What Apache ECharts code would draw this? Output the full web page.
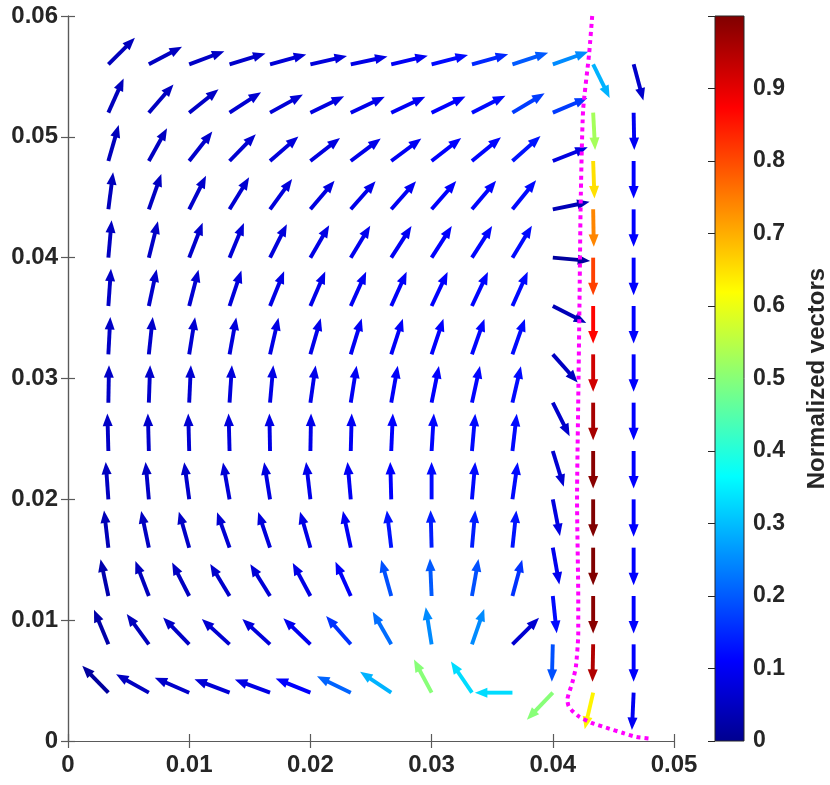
<!DOCTYPE html>
<html>
<head>
<meta charset="utf-8">
<title>quiver</title>
<script src="https://cdn.jsdelivr.net/npm/echarts@6/dist/echarts.min.js"></script>
<style>
html, body { margin: 0; padding: 0; background: #fff; }
#main { width: 830px; height: 785px; }
</style>
</head>
<body>
<div id="main"></div>
<script>
// grid columns (x) and rows (y), rows from top to bottom
var xCols = [0.00333, 0.00667, 0.01, 0.01333, 0.01667, 0.02, 0.02333, 0.02667, 0.03, 0.03333, 0.03667, 0.04, 0.04333, 0.04667];
var yRows = [0.056, 0.052, 0.048, 0.044, 0.040, 0.036, 0.032, 0.028, 0.024, 0.020, 0.016, 0.012, 0.008, 0.004];

// arrow direction in degrees (0 = right, 90 = up), one row per yRows entry
var angleRows = [
    [45, 28, 20.5, 17, 15.4, 13, 12, 13.3, 14.4, 15.5, 18, 19.5, -64, -75],
    [66, 49, 38.7, 33, 29, 26, 25, 25, 25.6, 27, 31, 23, -87, -89],
    [74, 61, 52, 45.7, 41, 38, 37, 36.8, 38, 39.5, 41.7, 21.5, -88, -90],
    [82.7, 70.6, 63.4, 58.6, 54, 50, 48.7, 48.7, 49, 50, 51, 11.5, -89, -90],
    [85, 76, 69, 67.5, 63.4, 60, 58.8, 57.4, 57.5, 57.5, 58.8, -5, -90, -90],
    [86, 78, 75.6, 71.6, 68, 66.7, 65.8, 65.8, 64.8, 64.8, 66, -27, -90, -90],
    [87, 84, 81, 79.7, 77, 74, 73, 72, 71.6, 70.6, 70.6, -48.6, -90, -90],
    [89, 88, 87.4, 86.4, 85, 82, 81, 80, 78.7, 77.7, 77, -63.4, -90, -90],
    [91.5, 91.5, 91.5, 91.5, 91, 89, 88.5, 87.5, 86.5, 85, 83.4, -73, -90, -90],
    [94, 95, 97.6, 100, 99, 96.6, 95, 91.5, 90, 85, 82, -79, -90, -90],
    [96.6, 101.8, 106, 109.4, 108.4, 106, 102, 96.7, 91.5, 85, 84, -80, -90, -90],
    [102, 111, 117, 121, 121.7, 118, 114, 105.6, 92.5, 80, 75, -84, -90, -90],
    [112.5, 126, 134, 137.5, 137.5, 136, 131, 119.6, 99, 71, 45, -91.5, -91, -90],
    [134, 150.7, 156.5, 159, 159.6, 157.8, 154, 146, 118, 124, 180, -133.6, -103, -92.6]
];

// normalized magnitude (colour), same layout
var magRows = [
    [0.045, 0.05, 0.055, 0.06, 0.07, 0.075, 0.085, 0.10, 0.12, 0.15, 0.20, 0.25, 0.29, 0.06],
    [0.045, 0.05, 0.055, 0.065, 0.07, 0.08, 0.09, 0.10, 0.11, 0.12, 0.17, 0.17, 0.53, 0.10],
    [0.045, 0.05, 0.06, 0.065, 0.075, 0.08, 0.09, 0.10, 0.11, 0.115, 0.13, 0.08, 0.65, 0.11],
    [0.045, 0.05, 0.06, 0.065, 0.075, 0.08, 0.09, 0.10, 0.11, 0.115, 0.12, 0.04, 0.74, 0.11],
    [0.05, 0.055, 0.06, 0.07, 0.075, 0.085, 0.095, 0.10, 0.11, 0.115, 0.12, 0.015, 0.81, 0.11],
    [0.055, 0.06, 0.065, 0.075, 0.085, 0.09, 0.10, 0.105, 0.11, 0.115, 0.12, 0.04, 0.87, 0.11],
    [0.055, 0.06, 0.065, 0.075, 0.085, 0.09, 0.10, 0.105, 0.11, 0.115, 0.12, 0.05, 0.92, 0.11],
    [0.055, 0.06, 0.065, 0.075, 0.085, 0.09, 0.10, 0.105, 0.11, 0.115, 0.12, 0.06, 0.96, 0.11],
    [0.055, 0.06, 0.065, 0.075, 0.085, 0.09, 0.10, 0.11, 0.115, 0.12, 0.12, 0.065, 0.99, 0.11],
    [0.05, 0.055, 0.06, 0.07, 0.08, 0.09, 0.10, 0.11, 0.12, 0.12, 0.12, 0.08, 1.0, 0.11],
    [0.04, 0.05, 0.055, 0.065, 0.075, 0.085, 0.10, 0.13, 0.14, 0.14, 0.13, 0.095, 1.0, 0.11],
    [0.03, 0.045, 0.05, 0.06, 0.07, 0.085, 0.105, 0.19, 0.20, 0.19, 0.16, 0.12, 0.99, 0.11],
    [0.025, 0.045, 0.055, 0.065, 0.075, 0.095, 0.16, 0.22, 0.25, 0.25, 0.065, 0.19, 0.95, 0.11],
    [0.015, 0.05, 0.06, 0.07, 0.085, 0.11, 0.21, 0.29, 0.50, 0.33, 0.33, 0.50, 0.63, 0.10]
];

// magenta dotted curve
var curveX = [0.04325, 0.0430, 0.0425, 0.0423, 0.0422, 0.0421, 0.0420, 0.0421, 0.0421, 0.0419, 0.0416, 0.0412, 0.0413, 0.0416, 0.0422, 0.0432, 0.0444, 0.0458, 0.0469, 0.0480];
var curveY = [0.0600, 0.0569, 0.0522, 0.0445, 0.0360, 0.0282, 0.0200, 0.0117, 0.0089, 0.0061, 0.0048, 0.0034, 0.0029, 0.0025, 0.0020, 0.0015, 0.0011, 0.00066, 0.00033, 0.0002];

var xTicks = [0, 0.01, 0.02, 0.03, 0.04, 0.05];
var yTicks = [0, 0.01, 0.02, 0.03, 0.04, 0.05, 0.06];
var cbTicks = [0, 0.1, 0.2, 0.3, 0.4, 0.5, 0.6, 0.7, 0.8, 0.9];

var arrowScale = 0.0031;   // data units of a unit vector
var textColor = '#262626';
var font = 'Liberation Sans';

// jet colour map (matlab style, 64 levels made continuous)
function jet(t) {
    function c(v) { return Math.max(0, Math.min(1, v)); }
    var s = 63 * t;
    var r = c(Math.min((s - 23) / 16, (71 - s) / 16));
    var g = c(Math.min((s - 7) / 16, (55 - s) / 16));
    var b = c(Math.min((s + 9) / 16, (39 - s) / 16));
    return 'rgb(' + Math.round(r * 255) + ',' + Math.round(g * 255) + ',' + Math.round(b * 255) + ')';
}
var jetColors = [];
var jetStops = [];
for (var k = 0; k <= 63; k++) {
    jetColors.push(jet(k / 63));
    jetStops.push({ offset: k / 63, color: jet(k / 63) });
}

// quiver items: [x, y, u, v, mag]
var arrows = [];
for (var j = 0; j < yRows.length; j++) {
    for (var i = 0; i < xCols.length; i++) {
        var a = angleRows[j][i] * Math.PI / 180;
        arrows.push([xCols[i], yRows[j], Math.cos(a), Math.sin(a), magRows[j][i]]);
    }
}
var curve = [];
for (var n = 0; n < curveX.length; n++) {
    curve.push([curveX[n], curveY[n]]);
}

function renderArrow(params, api) {
    var x = api.value(0), y = api.value(1), u = api.value(2), v = api.value(3);
    var p0 = api.coord([x, y]);
    var p1 = api.coord([x + arrowScale * u, y + arrowScale * v]);
    var dx = p1[0] - p0[0], dy = p1[1] - p0[1];
    var len = Math.sqrt(dx * dx + dy * dy);
    var ux = dx / len, uy = dy / len;
    var hl = 12.5, hw = 5;
    var bx = p1[0] - ux * hl, by = p1[1] - uy * hl;
    var color = api.visual('color');
    return {
        type: 'group',
        children: [{
            type: 'line',
            shape: { x1: p0[0], y1: p0[1], x2: bx + ux * 3, y2: by + uy * 3 },
            style: { stroke: color, lineWidth: 3.9 }
        }, {
            type: 'polygon',
            shape: { points: [[p1[0], p1[1]], [bx - uy * hw, by + ux * hw], [bx + uy * hw, by - ux * hw]] },
            style: { fill: color }
        }]
    };
}

function renderBar(params, api) {
    var p0 = api.coord([api.value(0), api.value(1)]);
    var p1 = api.coord([api.value(2), api.value(3)]);
    return {
        type: 'rect',
        shape: { x: p0[0], y: p1[1], width: p1[0] - p0[0], height: p0[1] - p1[1] },
        style: {
            fill: new echarts.graphic.LinearGradient(0, 1, 0, 0, jetStops),
            stroke: textColor,
            lineWidth: 1
        }
    };
}

function fmt(v) {
    return String(+v.toFixed(3));
}

var chart = echarts.init(document.getElementById('main'));

var axisLine = { show: true, lineStyle: { color: '#5a5a5a', width: 1.2 } };
var axisTick = { show: true, inside: true, length: 7, lineStyle: { color: '#5a5a5a', width: 1.2 } };
var axisLabel = { color: textColor, fontSize: 24, fontWeight: 'bold', fontFamily: font };

var option = {
    backgroundColor: '#fff',
    animation: false,
    grid: [
        { left: 68, top: 16, width: 606, height: 725 },
        { left: 715, top: 16, width: 33, height: 725 }
    ],
    xAxis: [{
        gridIndex: 0, type: 'value', min: xTicks[0], max: xTicks[xTicks.length - 1], interval: 0.01,
        position: 'bottom', axisLine: axisLine, axisTick: axisTick, splitLine: { show: false },
        axisLabel: Object.assign({ margin: 12, formatter: fmt }, axisLabel)
    }, {
        gridIndex: 0, type: 'value', min: xTicks[0], max: xTicks[xTicks.length - 1], interval: 0.01,
        position: 'top', axisLine: axisLine, axisTick: axisTick, splitLine: { show: false },
        axisLabel: { show: false }
    }, {
        gridIndex: 1, type: 'value', min: 0, max: 1, show: false
    }],
    yAxis: [{
        gridIndex: 0, type: 'value', min: yTicks[0], max: yTicks[yTicks.length - 1], interval: 0.01,
        position: 'left', axisLine: axisLine, axisTick: axisTick, splitLine: { show: false },
        axisLabel: Object.assign({ margin: 10, formatter: fmt }, axisLabel)
    }, {
        gridIndex: 0, type: 'value', min: yTicks[0], max: yTicks[yTicks.length - 1], interval: 0.01,
        position: 'right', axisLine: axisLine, axisTick: axisTick, splitLine: { show: false },
        axisLabel: { show: false }
    }, {
        gridIndex: 1, type: 'value', min: 0, max: 1, interval: 0.1, position: 'right', z: 10,
        axisLine: { show: false },
        axisTick: { show: true, inside: true, length: 7, lineStyle: { color: textColor, width: 1 } },
        splitLine: { show: false },
        axisLabel: {
            margin: 9, color: textColor, fontSize: 23, fontWeight: 'bold', fontFamily: font,
            formatter: function (v) { return cbTicks.indexOf(+v.toFixed(1)) >= 0 ? fmt(v) : ''; }
        },
        name: 'Normalized vectors', nameLocation: 'middle', nameRotate: 90, nameGap: 61,
        nameTextStyle: { color: textColor, fontSize: 24, fontWeight: 'bold', fontFamily: font }
    }],
    visualMap: {
        show: false,
        type: 'continuous',
        seriesIndex: 0,
        dimension: 4,
        min: 0,
        max: 1,
        inRange: { color: jetColors }
    },
    series: [{
        type: 'custom',
        xAxisIndex: 0, yAxisIndex: 0,
        renderItem: renderArrow,
        encode: { x: 0, y: 1 },
        data: arrows,
        z: 2
    }, {
        type: 'line',
        xAxisIndex: 0, yAxisIndex: 0,
        data: curve,
        showSymbol: false,
        smooth: 0.2,
        lineStyle: { color: '#ff00ff', width: 4, type: [4, 4], cap: 'butt' },
        z: 3
    }, {
        type: 'custom',
        xAxisIndex: 2, yAxisIndex: 2,
        renderItem: renderBar,
        data: [[0, 0, 1, 1]],
        z: 2
    }]
};
chart.setOption(option);
</script>
</body>
</html>
